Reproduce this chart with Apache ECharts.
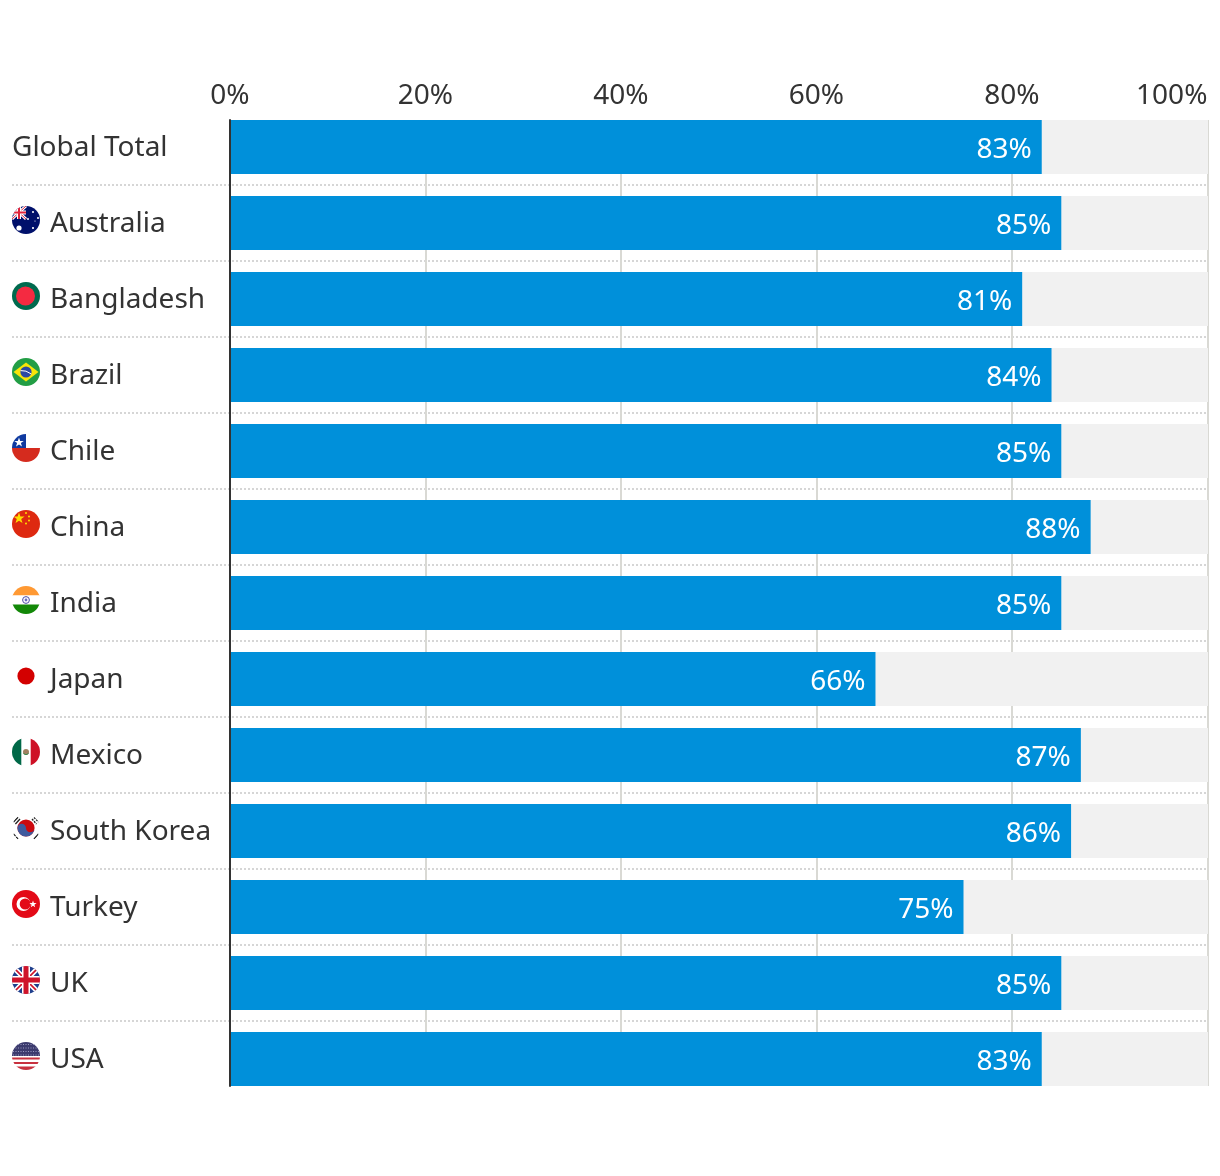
<!DOCTYPE html>
<html><head><meta charset="utf-8">
<style>html,body{margin:0;padding:0;background:#fff}#c{width:1220px;height:1176px}</style>
<script src="https://cdn.jsdelivr.net/npm/echarts@6/dist/echarts.min.js"></script>
</head><body><div id="c"></div>
<script>
const categories = ['Global Total','Australia','Bangladesh','Brazil','Chile','China','India','Japan','Mexico','South Korea','Turkey','UK','USA'];
const values = [83,85,81,84,85,88,85,66,87,86,75,85,83];
const tickStep = 20;
const flagFor = {
  Australia:'<rect width="28" height="28" fill="#00106b"/><path d="M0 0L14 13M14 0L0 13" stroke="#fff" stroke-width="3"/><path d="M0 0L14 13M14 0L0 13" stroke="#e0243c" stroke-width="1"/><path d="M7 0V13M0 6.5H14" stroke="#fff" stroke-width="4"/><path d="M7 0V13M0 6.5H14" stroke="#e0243c" stroke-width="2"/><g fill="#fff"><circle cx="7" cy="22" r="2.6"/><circle cx="21" cy="6" r="1"/><circle cx="21" cy="22" r="1.1"/><circle cx="16" cy="13" r="1"/><circle cx="26" cy="12" r="1"/><circle cx="23" cy="15" r=".6"/></g>',
  Bangladesh:'<rect width="28" height="28" fill="#006a4e"/><circle cx="13.5" cy="14" r="9.5" fill="#f42a41"/>',
  Brazil:'<rect width="28" height="28" fill="#229e45"/><path d="M14 4.5L26.5 14L14 23.5L1.5 14Z" fill="#f8e509"/><circle cx="14" cy="14" r="5.6" fill="#2b49a3"/><path d="M8.6 12.6Q14 12 19.3 16" stroke="#fff" stroke-width="1" fill="none"/>',
  Chile:'<rect width="28" height="14" fill="#fff"/><rect width="14" height="14" fill="#0f3aa0"/><rect y="14" width="28" height="14" fill="#d52b1e"/><path d="M7 3.5L8.2 7L11.8 7L8.9 9.1L10 12.5L7 10.4L4 12.5L5.1 9.1L2.2 7L5.8 7Z" fill="#fff"/>',
  China:'<rect width="28" height="28" fill="#de2910"/><path d="M7 2.6L8.4 6.6L12.6 6.6L9.2 9.1L10.5 13.1L7 10.7L3.5 13.1L4.8 9.1L1.4 6.6L5.6 6.6Z" fill="#ffde00"/><g fill="#ffde00"><circle cx="14" cy="3" r="1"/><circle cx="17" cy="6.5" r="1"/><circle cx="17" cy="10.5" r="1"/><circle cx="14" cy="13.5" r="1"/></g>',
  India:'<rect width="28" height="9.5" fill="#ff9933"/><rect y="9.5" width="28" height="9" fill="#fff"/><rect y="18.5" width="28" height="9.5" fill="#138808"/><circle cx="14" cy="14" r="3.4" fill="none" stroke="#4b4ba8" stroke-width="1"/><circle cx="14" cy="14" r="1.4" fill="#6a6ac0"/>',
  Japan:'<rect width="28" height="28" fill="#fff"/><circle cx="14" cy="14" r="8.6" fill="#d30000"/>',
  Mexico:'<rect width="28" height="28" fill="#fff"/><rect width="9.3" height="28" fill="#006847"/><rect x="18.7" width="9.3" height="28" fill="#ce1126"/><circle cx="14" cy="14" r="3" fill="#a08060"/><path d="M11.5 15.5Q14 18 16.5 15.5" stroke="#3a8a50" stroke-width="1" fill="none"/>',
  'South Korea':'<rect width="28" height="28" fill="#fff"/><circle cx="14" cy="14" r="8.6" fill="#cd0a10"/><path d="M5.4 14A4.3 4.3 0 0 1 14 14A4.3 4.3 0 0 0 22.6 14A8.6 8.6 0 0 1 5.4 14Z" fill="#3f5a9e"/><g stroke="#222" stroke-width="1.3" fill="none"><path d="M1.5 8L6 3.2"/><path d="M3.4 10L8 5"/><path d="M22 3.5L26.5 8" stroke-dasharray="2 1"/><path d="M20 5L24.5 10" stroke-dasharray="2 1"/><path d="M1.5 20L6 25" stroke-dasharray="3 1"/><path d="M22 25L26.5 20"/></g>',
  Turkey:'<rect width="28" height="28" fill="#e30a17"/><circle cx="11.5" cy="14" r="7" fill="#fff"/><circle cx="13.2" cy="14" r="5.5" fill="#e30a17"/><path d="M21 10.5L21.9 13L24.6 13L22.4 14.7L23.2 17.3L21 15.7L18.8 17.3L19.6 14.7L17.4 13L20.1 13Z" fill="#fff"/>',
  UK:'<rect width="28" height="28" fill="#1f3f8c"/><path d="M0 0L28 28M28 0L0 28" stroke="#fff" stroke-width="5"/><path d="M0 0L28 28M28 0L0 28" stroke="#cf142b" stroke-width="1.6"/><path d="M14 0V28M0 14H28" stroke="#fff" stroke-width="8"/><path d="M14 0V28M0 14H28" stroke="#cf142b" stroke-width="5"/>',
  USA:'<rect width="28" height="28" fill="#fff"/><g fill="#c8323f"><rect y="15.5" width="28" height="2"/><rect y="20" width="28" height="2"/><rect y="24.5" width="28" height="3.5"/></g><rect width="28" height="14" fill="#3c3b6e"/><path d="M1 2.5H27M1 6H27M1 9.500H27M1 13H27" stroke="#9a9ac0" stroke-width="1" stroke-dasharray="1 1.500"/>'
};
function flagUri(svg){
  const s='<svg xmlns="http://www.w3.org/2000/svg" width="56" height="56" viewBox="0 0 28 28"><defs><clipPath id="k"><circle cx="14" cy="14" r="14"/></clipPath></defs><g clip-path="url(#k)">'+svg+'</g></svg>';
  return 'image://data:image/svg+xml;charset=utf-8,'+encodeURIComponent(s);
}
const FONT='"Noto Sans"', INK='#333333', SIZE=28;
const chart=echarts.init(document.getElementById('c'),null,{renderer:'canvas'});
chart.setOption({
  animation:false,
  backgroundColor:'#fff',
  textStyle:{fontFamily:FONT},
  grid:[
    {left:230,right:12.6,top:120,height:966},
    {left:230,right:12,top:109,height:988},
    {left:12,right:12,top:109,height:988}
  ],
  xAxis:[
    {gridIndex:0,type:'value',position:'top',min:0,max:100,interval:tickStep,
     axisLine:{show:false},axisTick:{show:false},
     axisLabel:{color:INK,fontFamily:FONT,fontSize:SIZE,margin:10,formatter:'{value}%',alignMaxLabel:'right'},
     splitLine:{show:true,lineStyle:{color:'#d9d9d4',width:2}}},
    {gridIndex:1,type:'value',min:0,max:100,show:false},
    {gridIndex:2,type:'value',min:0,max:100,show:false}
  ],
  yAxis:[
    {gridIndex:0,type:'category',inverse:true,data:categories,z:6,
     axisLine:{show:true,lineStyle:{color:'#333',width:2}},axisTick:{show:false},axisLabel:{show:false},splitLine:{show:false}},
    {gridIndex:1,type:'category',inverse:true,data:categories,
     axisLine:{show:false},axisTick:{show:false},splitLine:{show:false},
     axisLabel:{align:'left',margin:218,color:INK,fontFamily:FONT,fontSize:SIZE,
       formatter:n=>flagFor[n]?'{f|'+n+'}':'{g|'+n+'}',
       rich:{f:{padding:[2,0,0,38],color:INK,fontFamily:FONT,fontSize:SIZE},g:{padding:[2,0,0,0],color:INK,fontFamily:FONT,fontSize:SIZE}}}},
    {gridIndex:2,type:'category',inverse:true,data:categories,
     axisLine:{show:false},axisTick:{show:false},axisLabel:{show:false},
     splitLine:{show:true,showMinLine:false,showMaxLine:false,lineStyle:{color:'#d6d6d6',width:2,type:[2,2]}}}
  ],
  series:[
    {type:'bar',xAxisIndex:1,yAxisIndex:1,data:values,barWidth:54,z:3,
     itemStyle:{color:'#0090da'},
     showBackground:true,backgroundStyle:{color:'#f1f1f1'},
     label:{show:true,position:'insideRight',distance:10,color:'#fff',fontFamily:FONT,fontSize:SIZE,formatter:'{c}%',offset:[0,3]}},
    {type:'scatter',xAxisIndex:2,yAxisIndex:2,symbolSize:28,symbolOffset:[14,-3],silent:true,z:4,itemStyle:{opacity:1},
     data:categories.filter(n=>flagFor[n]).map(n=>({value:[0,n],symbol:flagUri(flagFor[n])}))}
  ]
});
</script></body></html>
